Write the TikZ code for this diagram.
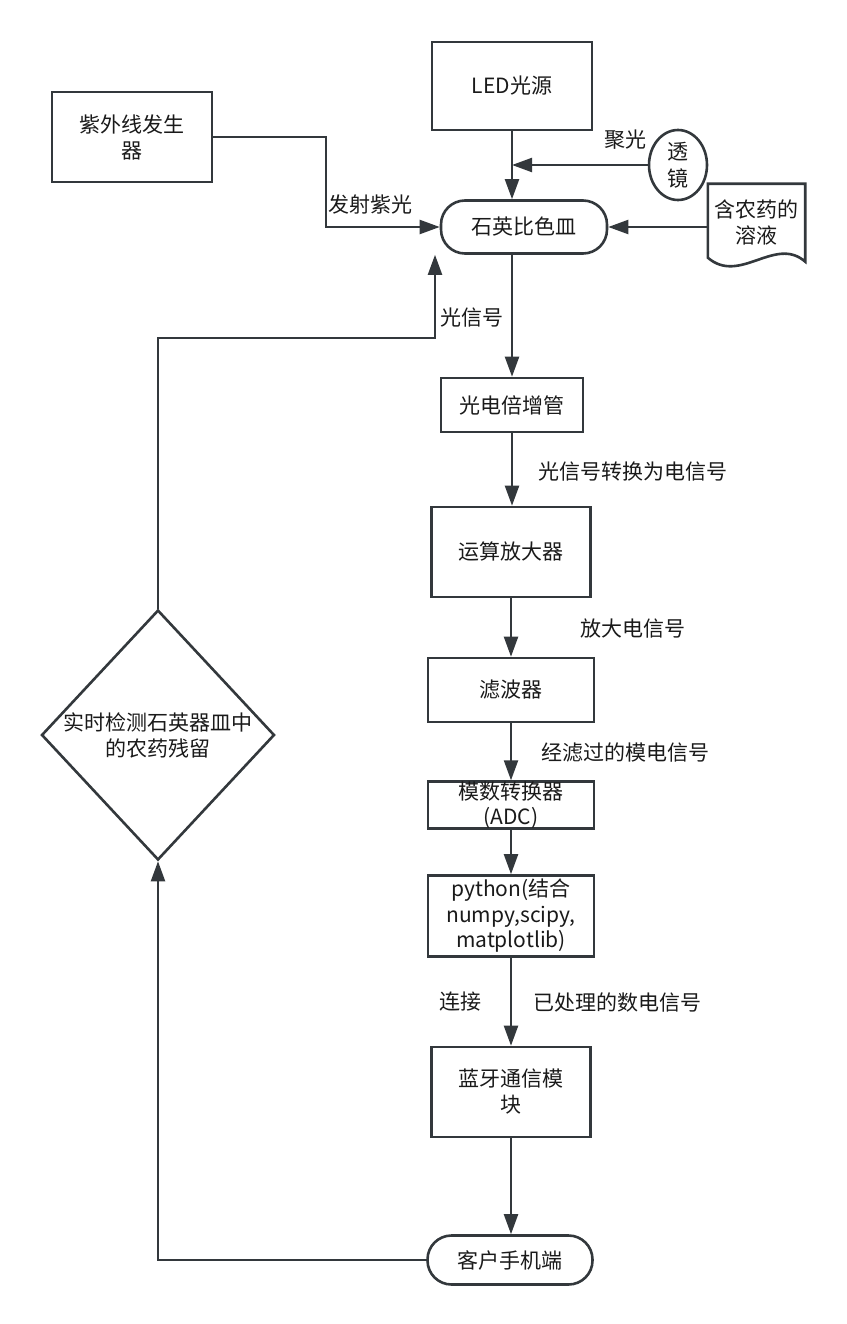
\documentclass[tikz,border=0pt]{standalone}
\usepackage{fontspec}
\setmainfont{Noto Sans CJK SC}
\usepackage{xcolor}
\usetikzlibrary{positioning, arrows.meta, shapes.geometric, calc}
\definecolor{lineCol}{HTML}{33383C}
\definecolor{inkText}{HTML}{1A1A1A}

\begin{document}
\begin{tikzpicture}[
  x=1pt, y=-1pt,
  every node/.style={font=\fontsize{21}{26}\selectfont, text=inkText},
  blk/.style={rectangle, draw=lineCol, line width=2.6pt, align=center, inner sep=0pt},
  term/.style={rectangle, rounded corners=24pt, draw=lineCol, line width=2.6pt,
               align=center, inner sep=0pt},
  lens/.style={ellipse, draw=lineCol, line width=2.6pt, align=center, inner sep=0pt},
  judge/.style={diamond, draw=lineCol, line width=2.6pt, aspect=0.93, align=center, inner sep=0pt},
  lbl/.style={inner sep=1pt},
  flow/.style={-{Triangle[length=20pt, width=14pt]}, draw=lineCol, line width=2.2pt},
  wire/.style={draw=lineCol, line width=2.2pt},
]
  \useasboundingbox (0,0) rectangle (846,1324);

  % light path
  \node[blk, minimum width=160pt, minimum height=88pt] at (512,86) (led) {LED光源};
  \node[blk, minimum width=160pt, minimum height=90pt] at (132,137) (uv) {紫外线发生\\器};
  \node[term, minimum width=166pt, minimum height=53pt] at (524,227) (cuv) {石英比色皿};
  \node[lens, minimum width=58pt, minimum height=70pt, font=\fontsize{21}{27}\selectfont]
        at (678,165) (lns) {透\\镜};
  \node[minimum width=97pt, minimum height=76pt, inner sep=0pt, align=center]
        at (756.5,222) (soln) {含农药的\\溶液};
  \draw[draw=lineCol, line width=2.6pt] ($(soln.south west)+(0,-2.5)$) -- (soln.north west)
        -- (soln.north east) -- ($(soln.south east)+(0,1.5)$)
        .. controls ($(soln.south east)+(-30,-25)$) and ($(soln.south west)+(32,25)$)
        .. ($(soln.south west)+(0,-2.5)$) -- cycle;

  \coordinate (focus) at (led.south |- lns.west);
  \coordinate (uvBend) at (326,137);
  \draw[flow] (led.south) -- (led.south |- cuv.north);
  \draw[flow] (lns.west) -- (focus);
  \node[lbl] at (625,140) (lblFocus) {聚光};
  \draw[flow] (soln.west |- cuv.east) -- (cuv.east);
  \draw[flow] (uv.east) -- (uvBend) |- (cuv.west);
  \node[lbl] at (370,205) (lblUv) {发射紫光};

  % signal chain
  \node[blk, minimum width=142pt, minimum height=54pt] at (512,405) (pmt) {光电倍增管};
  \node[blk, minimum width=159pt, minimum height=90pt] at (511,552) (amp) {运算放大器};
  \node[blk, minimum width=166pt, minimum height=64pt] at (511,690) (filt) {滤波器};
  \node[blk, minimum width=166pt, minimum height=46pt, font=\fontsize{21}{25}\selectfont]
        at (511,805) (adc) {模数转换器\\(ADC)};
  \node[blk, minimum width=166pt, minimum height=81pt, font=\fontsize{21}{25.5}\selectfont]
        at (511,916) (py) {python(结合\\numpy,scipy,\\matplotlib)};
  \node[blk, minimum width=159pt, minimum height=90pt] at (511,1092) (bt) {蓝牙通信模\\块};
  \node[term, minimum width=165pt, minimum height=49pt] at (510,1260) (phone) {客户手机端};

  \draw[flow] (pmt.north |- cuv.south) -- (pmt.north);
  \draw[flow] (pmt.south) -- (pmt.south |- amp.north);
  \draw[flow] (amp.south) -- (filt.north);
  \draw[flow] (filt.south) -- (adc.north);
  \draw[flow] (adc.south) -- (py.north);
  \draw[flow] (py.south) -- (bt.north);
  \draw[flow] (bt.south) -- (bt.south |- phone.north);

  \node[lbl] at (633,472) (lblConv) {光信号转换为电信号};
  \node[lbl] at (633,629) (lblAmp) {放大电信号};
  \node[lbl] at (625,753) (lblFilt) {经滤过的模电信号};
  \node[lbl] at (460,1002) (lblLink) {连接};
  \node[lbl] at (617,1002) (lblDig) {已处理的数电信号};

  % feedback loop
  \node[judge, minimum width=233pt, minimum height=250pt] at (158,735) (chk)
        {实时检测石英器皿中\\的农药残留};
  \coordinate (fbCorner) at (435,338);
  \draw[flow] (chk.north) |- (fbCorner) -- (fbCorner |- cuv.south);
  \node[lbl] at (472,318) (lblLight) {光信号};
  \draw[flow] (phone.west) -| (chk.south);
\end{tikzpicture}
\end{document}
